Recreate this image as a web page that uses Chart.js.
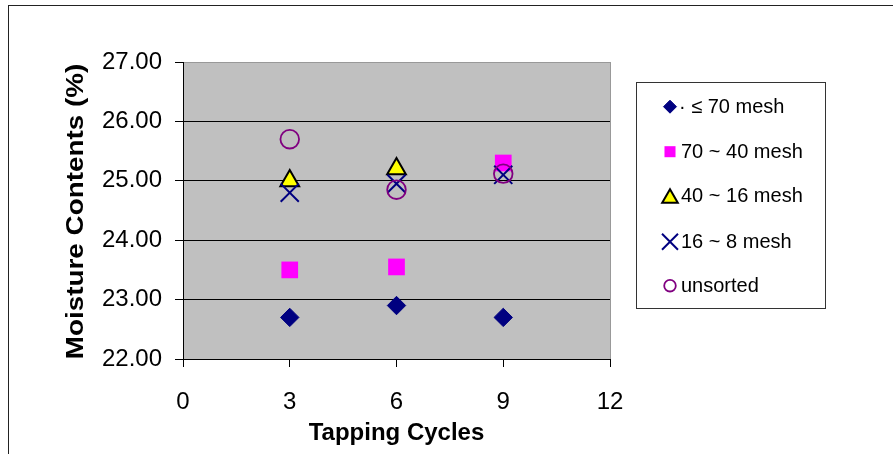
<!DOCTYPE html>
<html>
<head>
<meta charset="utf-8">
<title>Moisture Contents vs Tapping Cycles</title>
<script src="https://cdn.jsdelivr.net/npm/chart.js@4/dist/chart.umd.min.js"></script>
<style>
  html, body { margin: 0; padding: 0; background: #fff; }
  canvas { display: block; }
</style>
</head>
<body>
<canvas id="chart" width="893" height="454"></canvas>
<script>
// Tapping cycles on the x axis
const cycles = [3, 6, 9];

// Moisture contents (%) per sieve fraction
const meshUnder70 = [22.7, 22.9, 22.7];
const mesh70to40 = [23.5, 23.55, 25.3];
const mesh40to16 = [25.0, 25.2, null];
const mesh16to8 = [24.8, 24.95, 25.1];
const unsorted = [25.7, 24.85, 25.12];

// Series names as shown in the legend
const seriesNames = ['· ≤ 70 mesh', '70 ~ 40 mesh', '40 ~ 16 mesh', '16 ~ 8 mesh', 'unsorted'];

// Axis tick values
const xTicks = [0, 3, 6, 9, 12];
const yTicks = [22, 23, 24, 25, 26, 27];

const FONT = '"Liberation Sans", Arial, Helvetica, sans-serif';

function points(values) {
  return cycles.map((x, i) => ({ x: x, y: values[i] }));
}

const styles = [
  { pointStyle: 'rectRot', radius: 9.2, bg: '#000080', border: '#000080', bw: 1, legendRadius: 6.5, order: 5 },
  { pointStyle: 'rect', radius: 11.8, bg: '#ff00ff', border: '#ff00ff', bw: 0, legendRadius: 7.8, order: 4 },
  { pointStyle: 'triangle', radius: 10.8, bg: '#ffff00', border: '#000000', bw: 2, legendRadius: 9, order: 3 },
  { pointStyle: 'crossRot', radius: 12.8, bg: '#000080', border: '#000080', bw: 2, legendRadius: 11.3, order: 2 },
  { pointStyle: 'circle', radius: 9.3, bg: 'rgba(0,0,0,0)', border: '#800080', bw: 1.8, legendRadius: 5.8, order: 1 }
];

const seriesValues = [meshUnder70, mesh70to40, mesh40to16, mesh16to8, unsorted];

const datasets = seriesValues.map((vals, i) => ({
  label: seriesNames[i],
  data: points(vals),
  showLine: false,
  pointStyle: styles[i].pointStyle,
  pointRadius: styles[i].radius,
  pointHoverRadius: styles[i].radius,
  pointBackgroundColor: styles[i].bg,
  pointBorderColor: styles[i].border,
  pointBorderWidth: styles[i].bw,
  legendRadius: styles[i].legendRadius,
  order: styles[i].order
}));

// Plot background, plot frame, outer frame, rotated y title and boxed legend
const decorations = {
  id: 'decorations',
  beforeDraw(chart) {
    const { ctx, chartArea: a } = chart;
    ctx.save();
    ctx.fillStyle = '#ffffff';
    ctx.fillRect(0, 0, chart.width, chart.height);
    ctx.fillStyle = '#c0c0c0';
    ctx.fillRect(a.left, a.top, a.right - a.left, a.bottom - a.top);
    ctx.restore();
  },
  afterDraw(chart) {
    const { ctx, chartArea: a } = chart;
    ctx.save();

    // right edge of the plot area
    ctx.strokeStyle = '#999999';
    ctx.lineWidth = 1;
    ctx.beginPath();
    ctx.moveTo(Math.round(a.right) + 0.5, a.top);
    ctx.lineTo(Math.round(a.right) + 0.5, a.bottom);
    ctx.stroke();

    // outer frame
    ctx.strokeStyle = '#222222';
    ctx.lineWidth = 1;
    ctx.strokeRect(8.5, 5.5, 1000, 1000);

    // y axis title, stretched along its length
    ctx.save();
    ctx.translate(76, (a.top + a.bottom) / 2 + 1);
    ctx.rotate(-Math.PI / 2);
    ctx.scale(1.16, 1);
    ctx.font = 'bold 24px ' + FONT;
    ctx.fillStyle = '#000000';
    ctx.textAlign = 'center';
    ctx.textBaseline = 'middle';
    ctx.fillText('Moisture Contents (%)', 0, 0);
    ctx.restore();

    // legend box
    ctx.strokeStyle = '#333333';
    ctx.lineWidth = 1;
    ctx.strokeRect(636.5, 82.5, 189, 226);

    const rowY = [106.7, 151.7, 195.7, 241.7, 285.7];
    chart.data.datasets.forEach((ds, i) => {
      const y = rowY[i];
      const markerY = ds.pointStyle === 'triangle' ? y + 2.5 : y;
      ctx.fillStyle = ds.pointBackgroundColor;
      ctx.strokeStyle = ds.pointBorderColor;
      ctx.lineWidth = ds.pointBorderWidth;
      Chart.helpers.drawPoint(ctx, {
        pointStyle: ds.pointStyle,
        radius: ds.legendRadius,
        rotation: 0,
        borderWidth: ds.pointBorderWidth
      }, 670, markerY);
      ctx.fillStyle = '#000000';
      ctx.font = '20px ' + FONT;
      ctx.textAlign = 'left';
      ctx.textBaseline = 'middle';
      ctx.fillText(ds.label, i === 0 ? 679 : 681, y + 1);
    });

    ctx.restore();
  }
};

new Chart(document.getElementById('chart'), {
  type: 'scatter',
  data: { datasets: datasets },
  plugins: [decorations],
  options: {
    responsive: false,
    animation: false,
    events: [],
    layout: { padding: { left: 0, top: 62, right: 283, bottom: 0 } },
    plugins: {
      legend: { display: false },
      tooltip: { enabled: false }
    },
    scales: {
      x: {
        type: 'linear',
        min: 0,
        max: 12,
        afterBuildTicks: (s) => { s.ticks = xTicks.map(v => ({ value: v })); },
        afterFit: (s) => { s.height = 95; },
        grid: { drawOnChartArea: false, drawTicks: true, tickLength: 8, color: '#000000', tickColor: '#000000' },
        border: { color: '#000000', width: 1 },
        ticks: { font: { family: FONT, size: 24 }, color: '#000000', padding: 21, maxRotation: 0 },
        title: {
          display: true,
          text: 'Tapping Cycles',
          font: { family: FONT, size: 24, weight: 'bold' },
          color: '#000000',
          padding: { top: 0, bottom: 6 }
        }
      },
      y: {
        type: 'linear',
        min: 22,
        max: 27,
        afterBuildTicks: (s) => { s.ticks = yTicks.map(v => ({ value: v })); },
        afterFit: (s) => { s.width = 183; },
        grid: {
          drawTicks: true,
          tickLength: 8,
          color: (c) => (c.tick && c.tick.value === 27 ? '#999999' : '#000000'),
          tickColor: '#000000'
        },
        border: { color: '#000000', width: 1 },
        ticks: {
          font: { family: FONT, size: 24 },
          color: '#000000',
          padding: 13,
          callback: (v) => Number(v).toFixed(2)
        }
      }
    }
  }
});
</script>
</body>
</html>
